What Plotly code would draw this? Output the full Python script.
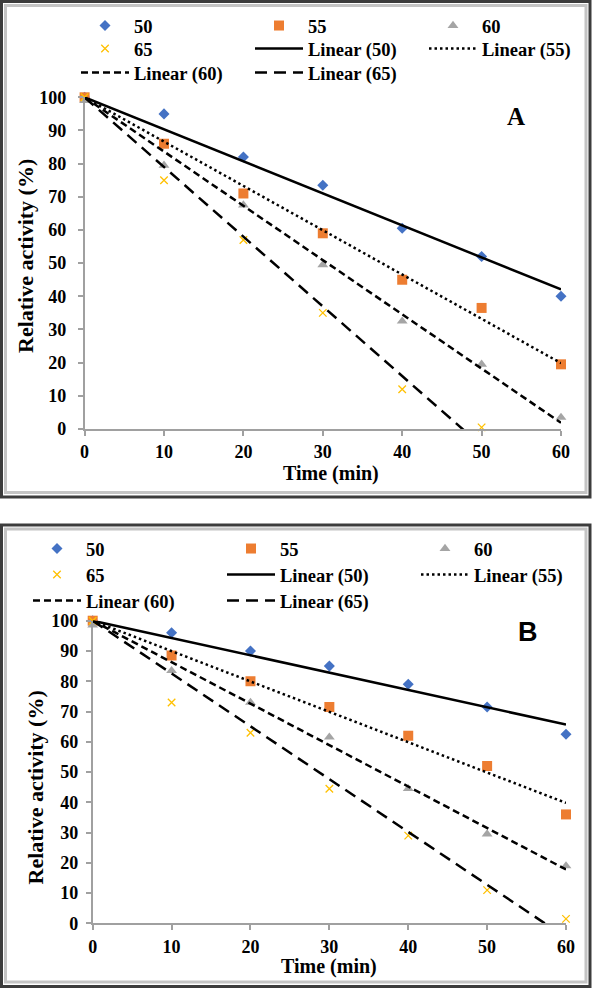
import numpy as np
import plotly.graph_objects as go

# ---------------- data ----------------
time_min = [0, 10, 20, 30, 40, 50, 60]
series_names = ["50", "55", "60", "65"]
trend_names = ["Linear (50)", "Linear (55)", "Linear (60)", "Linear (65)"]

# Panel A (relative activity, %)
a_50 = [100, 95, 82, 73.5, 60.5, 52, 40]
a_55 = [100, 86, 71, 59, 45, 36.5, 19.5]
a_60 = [99, 79.5, 67.5, 49.5, 32.5, 19.5, 3.5]
a_65 = [100, 75, 57, 35, 12, 0.5]

# Panel B (relative activity, %)
b_50 = [100, 96, 90, 85, 79, 71.5, 62.5]
b_55 = [100, 88.5, 80, 71.5, 62, 52, 36]
b_60 = [98.5, 83.5, 73, 61.5, 44.5, 29.5, 19]
b_65 = [100, 73, 63, 44.5, 29, 11, 1.5]

y_ticks = [0, 10, 20, 30, 40, 50, 60, 70, 80, 90, 100]
x_ticks = [0, 10, 20, 30, 40, 50, 60]
trend_intercept = 100.0

# ---------------- style ----------------
W, H = 592, 988
SERIF = "Liberation Serif, Times New Roman, serif"
colors = ["#4472C4", "#ED7D31", "#A5A5A5", "#FFC000"]
symbols = ["diamond", "square", "triangle-up", "x-thin-open"]
msizes = [8.5, 10, 9.5, 7.5]
dashes = ["solid", "2.5px,3px", "7px,4px", "12px,7px"]


def fx(p):
    return p / W


def fy(p):
    return 1 - p / H


def fit_slope(x, y, b0):
    x = np.asarray(x, float)
    y = np.asarray(y, float)
    return float(np.sum(x * (y - b0)) / np.sum(x * x))


fig = go.Figure()

panels = [
    dict(data=[a_50, a_55, a_60, a_65], xa="x", ya="y",
         legends=["legend", "legend", "legend", "legend2", "legend2", "legend2", "legend3", "legend3"]),
    dict(data=[b_50, b_55, b_60, b_65], xa="x2", ya="y2",
         legends=["legend4", "legend4", "legend4", "legend5", "legend5", "legend5", "legend6", "legend6"]),
]

for p in panels:
    # markers first
    for i, vals in enumerate(p["data"]):
        xs = time_min[:len(vals)]
        mk = dict(symbol=symbols[i], size=msizes[i], color=colors[i])
        if symbols[i].startswith("x"):
            mk["line"] = dict(color=colors[i], width=1.3)
        fig.add_trace(go.Scatter(
            x=xs, y=vals, mode="markers", name=series_names[i], marker=mk,
            xaxis=p["xa"], yaxis=p["ya"], cliponaxis=False,
            legend=p["legends"][i]))
    # trendlines (linear, intercept fixed at 100)
    for i, vals in enumerate(p["data"]):
        xs = time_min[:len(vals)]
        m = fit_slope(xs, vals, trend_intercept)
        lx = np.array([xs[0], xs[-1]], float)
        ly = trend_intercept + m * lx
        fig.add_trace(go.Scatter(
            x=lx, y=ly, mode="lines", name=trend_names[i],
            line=dict(color="black", width=2.5, dash=dashes[i]),
            xaxis=p["xa"], yaxis=p["ya"],
            legend=p["legends"][4 + i]))

tickfont = dict(family=SERIF, size=18, color="black", weight="bold")
axis_common = dict(showgrid=False, zeroline=False, showline=True, linecolor="#a0a0a0",
                   linewidth=1.5, ticks="outside", ticklen=5, tickwidth=1.5,
                   tickcolor="#a0a0a0", tickfont=tickfont)

fig.update_layout(
    xaxis=dict(domain=[fx(84.6), fx(561)], range=[0, 60], tickvals=x_ticks, anchor="y",
               ticklabelstandoff=1, **axis_common),
    yaxis=dict(domain=[fy(429), fy(97.3)], range=[0, 100], tickvals=y_ticks, anchor="x",
               ticklabelstandoff=8, **axis_common),
    xaxis2=dict(domain=[fx(92.7), fx(566)], range=[0, 60], tickvals=x_ticks, anchor="y2",
                ticklabelstandoff=1, **axis_common),
    yaxis2=dict(domain=[fy(923.4), fy(620.7)], range=[0, 100], tickvals=y_ticks, anchor="x2",
                ticklabelstandoff=4, **axis_common),
)

legend_font = dict(family=SERIF, size=18.5, color="black", weight="bold")


def row_legend(x_px, yc_px, ew):
    return dict(x=fx(x_px), y=fy(yc_px - 18), xanchor="left", yanchor="top",
                orientation="h", entrywidth=ew, entrywidthmode="pixels", itemwidth=48,
                font=legend_font, bgcolor="rgba(0,0,0,0)", borderwidth=0,
                itemclick=False, itemdoubleclick=False)


fig.update_layout(
    legend=row_legend(76, 25, 111),
    legend2=row_legend(76, 48, 111),
    legend3=row_legend(76, 72, 111),
    legend4=row_legend(28, 548, 131),
    legend5=row_legend(28, 574, 131),
    legend6=row_legend(28, 600, 131),
)

annotations = [
    dict(text="Relative activity (%)", x=fx(25), y=fy(256), textangle=-90,
         font=dict(family=SERIF, size=22, color="black", weight="bold")),
    dict(text="Time (min)", x=fx(331), y=fy(474),
         font=dict(family=SERIF, size=20, color="black", weight="bold")),
    dict(text="A", x=fx(516), y=fy(116.5),
         font=dict(family=SERIF, size=25, color="black", weight="bold")),
    dict(text="Relative activity (%)", x=fx(35), y=fy(787.5), textangle=-90,
         font=dict(family=SERIF, size=22, color="black", weight="bold")),
    dict(text="Time (min)", x=fx(329), y=fy(966),
         font=dict(family=SERIF, size=20, color="black", weight="bold")),
    dict(text="B", x=fx(527.5), y=fy(632),
         font=dict(family="Liberation Sans, Arial, sans-serif", size=27, color="black", weight="bold")),
]
for a in annotations:
    a.update(xref="paper", yref="paper", showarrow=False, xanchor="center", yanchor="middle")

shapes = []
for top, bot in [(1.5, 497), (525, 986.5)]:
    shapes.append(dict(type="rect", xref="paper", yref="paper",
                       x0=fx(1.5), x1=fx(590), y0=fy(bot), y1=fy(top),
                       line=dict(color="#3c3c3c", width=3)))
    shapes.append(dict(type="rect", xref="paper", yref="paper",
                       x0=fx(5.5), x1=fx(586), y0=fy(bot - 4.5), y1=fy(top + 4),
                       line=dict(color="#c4c4c4", width=3)))

fig.update_layout(
    width=W, height=H, margin=dict(l=0, r=0, t=0, b=0, autoexpand=False),
    paper_bgcolor="white", plot_bgcolor="white",
    annotations=annotations, shapes=shapes, showlegend=True,
)

fig.write_html("out.html", config={"displayModeBar": False},
               post_script="document.body.style.margin='0';")
